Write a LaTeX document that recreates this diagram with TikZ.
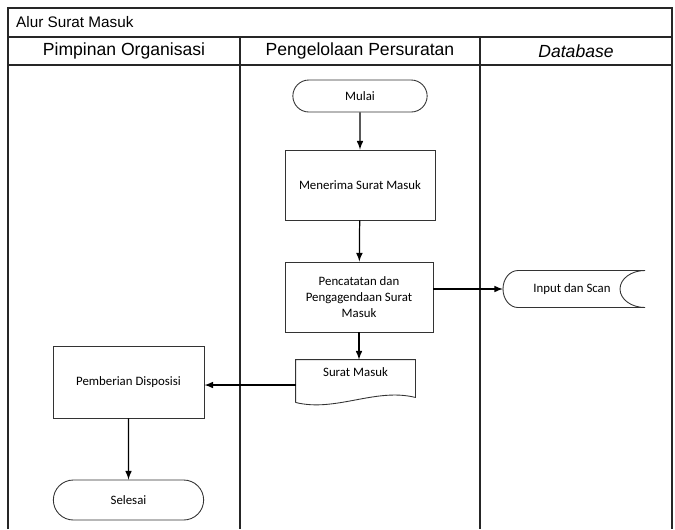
\documentclass[tikz,border=0pt]{standalone}
\usepackage{fontspec}
\setmainfont{Carlito}
\newfontfamily\arialfont{Liberation Sans}
\usetikzlibrary{arrows,shapes.misc,positioning}

\begin{document}
\begin{tikzpicture}[>=latex,
		frame/.style={line width=0.8pt, draw=black!85},
		header/.style={font=\arialfont\fontsize{10}{12}\selectfont},
		prosesbox/.style={draw=black!80, line width=0.5pt, minimum width=3cm, minimum height=1.4cm, align=center, font=\fontsize{7.3}{9}\selectfont},
		terminal/.style={prosesbox, rounded rectangle, minimum height=0.7cm},
		dokumen/.style={prosesbox, draw=none, minimum width=2.38cm, minimum height=0.84cm, text depth=0.37cm},
		simpan/.style={prosesbox, draw=none, minimum width=2cm, minimum height=0.74cm},
		alur/.style={->, line width=0.7pt},]
	\useasboundingbox (0,0) rectangle (13.5,-10.58);
	
	% lanes
	\draw[frame] (0.16,-10.58) -- (0.16,-0.16) -- (13.44,-0.16) -- (13.44,-10.58);
	\draw[frame] (0.16,-0.74) -- (13.44,-0.74);
	\draw[frame] (0.16,-1.30) -- (13.44,-1.30);
	\draw[frame] (4.8,-0.74) -- (4.8,-10.58);
	\draw[frame] (9.6,-0.74) -- (9.6,-10.58);
	
	\node[anchor=west, font=\arialfont\fontsize{8.7}{10}\selectfont] (judul) at (0.2,-0.45) {Alur Surat Masuk};
	\node[header] (lane1) at (2.48,-1.02) {Pimpinan Organisasi};
	\node[header] (lane2) at (7.2,-1.02) {Pengelolaan Persuratan};
	\node[header] (lane3) at (11.52,-1.02) {\itshape Database};
	
	% nodes
	\node[terminal, minimum width=2.92cm, minimum height=0.64cm] (mulai) at (7.2,-1.92) {Mulai};
	\node[prosesbox] (terima) at (7.2,-3.70) {Menerima Surat Masuk};
	\node[prosesbox, minimum width=2.96cm] (catat) at (7.18,-5.94) {Pencatatan dan\\Pengagendaan Surat\\Masuk};
	\node[simpan] (input) at (11.44,-5.78) {Input dan Scan};
	\node[dokumen] (surat) at (7.11,-7.62) {Surat Masuk};
	\node[prosesbox, minimum width=3.02cm, minimum height=1.44cm] (beri) at (2.57,-7.64) {Pemberian Disposisi};
	\node[terminal, minimum width=3.24cm, minimum height=0.8cm] (selesai) at (2.57,-10.0) {Selesai};
	
	% shapes
	\draw[draw=black!80, line width=0.5pt] ([shift={(-1.08,0.37)}]input.center) -- ++(2.54,0) arc[start angle=90, end angle=270, x radius=0.5cm, y radius=0.37cm] -- ++(-2.54,0) arc[start angle=270, end angle=90, x radius=0.3cm, y radius=0.37cm];
	\coordinate (inputkiri) at ([xshift=-1.38cm]input.center);
	
	\draw[draw=black!80, line width=0.5pt] (surat.south west) -- (surat.north west) -- (surat.north east) -- ([yshift=0.1cm]surat.south east) .. controls +(-0.8,0.2) and +(0.8,-0.2) .. (surat.south west);
	
	% connectors
	\draw[alur] (mulai) -- (terima);
	\draw[alur] (terima) -- (catat);
	\draw[alur] (catat.east |- input.center) -- (inputkiri);
	\draw[alur] (catat.south) -- (catat.south |- surat.north);
	\draw[alur] ([yshift=-0.08cm]surat.west) -- ([yshift=-0.08cm]surat.west -| beri.east);
	\draw[alur] (beri) -- (selesai);
	
\end{tikzpicture}
\end{document}
